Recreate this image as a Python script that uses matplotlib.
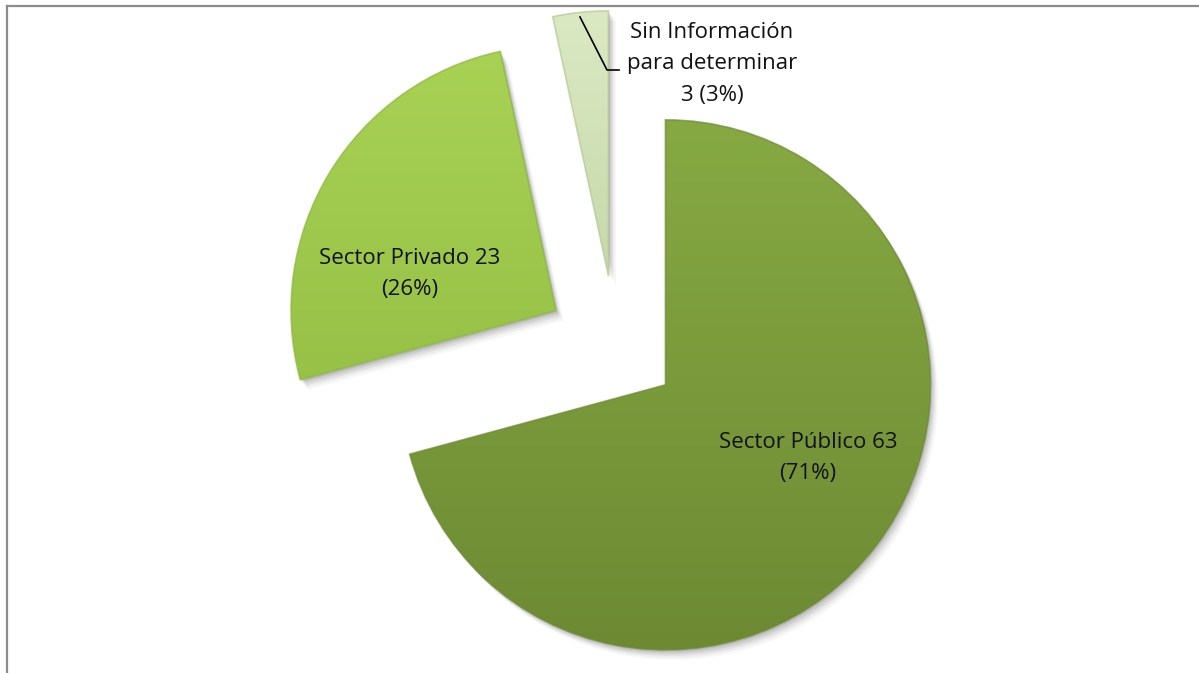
import numpy as np
import matplotlib
matplotlib.use("Agg")
import matplotlib.pyplot as plt
from matplotlib.colors import LinearSegmentedColormap
from matplotlib.lines import Line2D
from matplotlib.patches import Wedge

# Data
categories = ["Sector Público", "Sector Privado", "Sin Información\npara determinar"]
counts = [63, 23, 3]
percents = ["71%", "26%", "3%"]

# gradient colours (top, bottom) per slice
grad_top = ["#87a943", "#a9d255", "#dbe9c3"]
grad_bot = ["#6d8a33", "#8cb83e", "#b3c893"]
explode_frac = [0.235, 0.265, 0.27]

plt.rcParams["font.family"] = ["Open Sans", "DejaVu Sans"]

W, H = 1199, 673
fig = plt.figure(figsize=(W / 100, H / 100), dpi=100)
ax = fig.add_axes([0, 0, 1, 1])

R = 265
cx, cy = 616, H - 347
wedges, _ = ax.pie(counts, explode=[e * R for e in explode_frac], startangle=90,
                   counterclock=False, radius=R, center=(cx, cy),
                   wedgeprops=dict(linewidth=0))

ax.set_aspect("auto")
ax.axis("off")

# soft shadows + gradient fills clipped to each wedge
for i, w in enumerate(wedges):
    w.set_facecolor("none")
    for k, a in zip(range(1, 6), [0.10, 0.08, 0.06, 0.04, 0.03]):
        ax.add_patch(Wedge((w.center[0] + 1.5 * k, w.center[1] - 2 * k), w.r,
                           w.theta1, w.theta2, facecolor="#000000",
                           alpha=a, linewidth=0, zorder=0.5))
    cmap = LinearSegmentedColormap.from_list("g%d" % i, [grad_bot[i], grad_top[i]])
    grad = np.linspace(0, 1, 256).reshape(-1, 1)
    im = ax.imshow(grad, cmap=cmap, origin="lower", aspect="auto",
                   extent=(w.center[0] - R, w.center[0] + R, w.center[1] - R, w.center[1] + R),
                   zorder=1)
    im.set_clip_path(w)
    # thin darker rim
    ax.add_patch(Wedge(w.center, w.r, w.theta1, w.theta2, facecolor="none",
                       edgecolor=grad_bot[i], linewidth=1.2, alpha=0.7, zorder=1.5))

ax.set_xlim(0, W)
ax.set_ylim(0, H)

fs = 16
ls = 1.68
ax.text(808, H - 458, "%s %d\n(%s)" % (categories[0], counts[0], percents[0]),
        ha="center", va="center", fontsize=fs, color="#111111", linespacing=ls, zorder=3)
ax.text(410, H - 274, "%s %d\n(%s)" % (categories[1], counts[1], percents[1]),
        ha="center", va="center", fontsize=fs, color="#111111", linespacing=ls, zorder=3)
ax.text(712, H - 64, "%s\n%d (%s)" % (categories[2], counts[2], percents[2]),
        ha="center", va="center", fontsize=fs, color="#111111", linespacing=ls, zorder=3)

# leader line for small slice
ax.add_line(Line2D([580, 607, 619], [H - 17, H - 70, H - 70], color="black",
                   linewidth=1.2, zorder=3))

# chart border (top and left visible)
ax.add_line(Line2D([7, W], [H - 6, H - 6], color="#8c8c8c", linewidth=1.6, zorder=4))
ax.add_line(Line2D([7, 7], [0, H - 6], color="#8c8c8c", linewidth=1.6, zorder=4))

fig.savefig("out.png", dpi=100)
